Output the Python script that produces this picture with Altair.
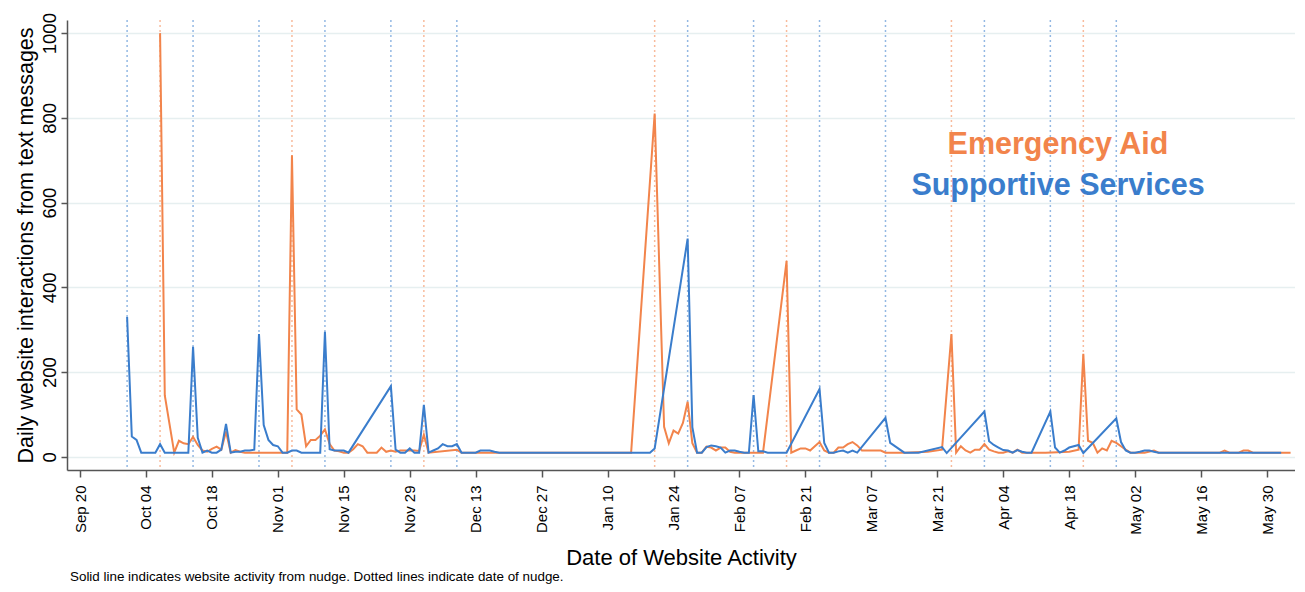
import altair as alt
import pandas as pd

BASE = pd.Timestamp("2020-09-20")

# Supportive Services (blue): day offset from Sep 20, daily interactions
ss_days = [10, 11, 12, 13, 14, 15, 16, 17, 18, 19, 20, 21, 22, 23, 24, 25, 26, 27, 28, 29,
           30, 31, 32, 33, 34, 35, 36, 37, 38, 39, 40, 41, 42, 43, 44, 45, 46, 47, 48, 49,
           50, 51, 52, 53, 54, 55, 56, 57, 66, 67, 68, 69, 70, 71, 72, 73, 74, 75, 76, 77,
           78, 79, 80, 81, 82, 83, 84, 85, 86, 87, 88, 89, 95, 100, 105, 110, 115, 121, 122, 129,
           130, 131, 132, 133, 134, 135, 136, 137, 138, 139, 140, 141, 142, 143, 144, 145, 146, 147, 148, 149,
           150, 157, 158, 159, 160, 161, 162, 163, 164, 165, 171, 172, 175, 176, 177, 178, 183, 184, 192, 193,
           194, 195, 196, 197, 198, 199, 200, 201, 202, 206, 207, 208, 209, 210, 212, 213, 220, 221, 222, 223,
           224, 225, 226, 227, 228, 229, 235, 240, 245, 250, 255]
ss_vals = [330, 48, 40, 10, 10, 10, 10, 30, 10, 10, 10, 10, 10, 10, 260, 45, 10, 15, 10, 10,
           17, 78, 10, 12, 12, 15, 15, 17, 290, 75, 40, 28, 25, 10, 10, 15, 15, 10, 10, 10,
           10, 10, 295, 18, 15, 15, 15, 10, 167, 17, 10, 10, 20, 10, 10, 123, 10, 15, 20, 30,
           25, 25, 30, 10, 10, 10, 10, 15, 15, 15, 12, 10, 10, 10, 10, 10, 10, 10, 20, 515,
           70, 10, 10, 23, 27, 25, 22, 10, 15, 15, 12, 10, 10, 146, 13, 13, 10, 10, 10, 10,
           10, 160, 33, 10, 10, 13, 15, 10, 15, 10, 92, 33, 10, 10, 10, 10, 23, 9, 107, 37,
           28, 22, 16, 15, 10, 16, 12, 10, 10, 107, 22, 10, 15, 22, 28, 9, 91, 35, 15, 10,
           10, 12, 15, 15, 12, 10, 10, 10, 10, 10, 10]

# Emergency Aid (orange)
ea_days = [17, 18, 20, 21, 22, 23, 24, 25, 26, 27, 28, 29, 30, 31, 32, 33, 34, 35, 36, 38,
           40, 42, 44, 45, 46, 47, 48, 49, 50, 51, 52, 53, 54, 55, 56, 57, 58, 59, 60, 61,
           62, 63, 64, 65, 66, 67, 68, 69, 70, 71, 72, 73, 74, 80, 81, 85, 90, 95, 100, 105,
           110, 117, 122, 124, 125, 126, 127, 128, 129, 130, 131, 132, 133, 134, 135, 136, 137, 138, 139, 141,
           143, 145, 150, 151, 152, 153, 154, 155, 156, 157, 158, 159, 160, 161, 162, 163, 164, 165, 166, 168,
           170, 171, 175, 180, 183, 185, 186, 187, 188, 189, 190, 191, 192, 193, 194, 195, 196, 197, 198, 199,
           200, 205, 210, 212, 213, 214, 215, 216, 217, 218, 219, 220, 221, 222, 223, 226, 228, 229, 235, 242,
           243, 244, 246, 247, 248, 249, 252, 257]
ea_vals = [1000, 145, 10, 38, 32, 30, 47, 28, 15, 12, 19, 24, 17, 60, 10, 16, 12, 10, 10, 10,
           10, 10, 10, 712, 112, 100, 25, 40, 40, 50, 65, 30, 15, 13, 10, 10, 18, 30, 25, 10,
           10, 10, 22, 12, 15, 12, 15, 15, 15, 15, 14, 52, 10, 17, 10, 10, 10, 10, 10, 10,
           10, 10, 810, 71, 32, 62, 55, 80, 130, 32, 10, 10, 24, 22, 15, 22, 22, 12, 10, 10,
           10, 10, 462, 10, 15, 20, 20, 15, 25, 35, 15, 10, 10, 22, 22, 30, 35, 27, 15, 15,
           15, 10, 10, 12, 17, 290, 10, 25, 15, 10, 17, 17, 30, 17, 13, 10, 10, 13, 10, 17,
           10, 10, 12, 17, 243, 38, 33, 10, 20, 15, 38, 33, 25, 17, 10, 10, 15, 10, 10, 10,
           15, 10, 10, 15, 15, 10, 10, 10]

# Dates of nudges (dotted lines)
ss_nudge_days = [10, 24, 38, 52, 66, 80, 129, 143, 157, 171, 192, 206, 220]
ea_nudge_days = [17, 45, 73, 122, 150, 185, 213]

tick_days = list(range(0, 253, 14))
y_ticks = [0, 200, 400, 600, 800, 1000]
series_names = ["Emergency Aid", "Supportive Services"]
series_colors = ["#F2844B", "#3A7DCC"]


def ms(days):
    return [int((BASE + pd.Timedelta(days=d)).value // 10**6) for d in days]


lines_df = pd.DataFrame({
    "date": ms(ea_days) + ms(ss_days),
    "value": ea_vals + ss_vals,
    "series": [series_names[0]] * len(ea_days) + [series_names[1]] * len(ss_days),
    "ord": [0] * len(ea_days) + [1] * len(ss_days),
})
nudge_df = pd.DataFrame({
    "date": ms(ea_nudge_days) + ms(ss_nudge_days),
    "series": [series_names[0]] * len(ea_nudge_days) + [series_names[1]] * len(ss_nudge_days),
})

color_scale = alt.Scale(domain=series_names, range=series_colors)
x_scale = alt.Scale(type="utc", domain=ms([-2.76, 257.94]), nice=False)
y_scale = alt.Scale(domain=[-31, 1031], nice=False, zero=False)

x_axis = alt.Axis(values=ms(tick_days), format="%b %d", labelAngle=270, labelAlign="right",
                  labelBaseline="middle", tickSize=7, labelPadding=8, grid=False,
                  title="Date of Website Activity", titlePadding=13, titleFontSize=22,
                  labelFontSize=15, labelOverlap=False)
y_axis = alt.Axis(values=y_ticks, labelAngle=270, labelAlign="center", labelBaseline="bottom",
                  tickSize=6, labelPadding=2, grid=True, format="d",
                  title="Daily website interactions from text messages", titlePadding=3,
                  titleFontSize=21.5, labelFontSize=18.5)

rules = alt.Chart(nudge_df).mark_rule(strokeDash=[2, 3], strokeWidth=1.5, opacity=0.55).encode(
    x=alt.X("date:T", scale=x_scale, axis=x_axis),
    color=alt.Color("series:N", scale=color_scale, legend=None),
)

ea_line = alt.Chart(lines_df[lines_df["ord"] == 0]).mark_line(strokeWidth=2).encode(
    x=alt.X("date:T", scale=x_scale, axis=x_axis),
    y=alt.Y("value:Q", scale=y_scale, axis=y_axis),
    color=alt.Color("series:N", scale=color_scale, legend=None),
)
ss_line = alt.Chart(lines_df[lines_df["ord"] == 1]).mark_line(strokeWidth=2).encode(
    x=alt.X("date:T", scale=x_scale, axis=x_axis),
    y=alt.Y("value:Q", scale=y_scale, axis=y_axis),
    color=alt.Color("series:N", scale=color_scale, legend=None),
)

one = alt.InlineData(values=[{"a": 1}])
lab1 = alt.Chart(one).mark_text(text=series_names[0], font="Liberation Sans", fontSize=30.5,
                                fontWeight="bold", color=series_colors[0], align="center",
                                baseline="alphabetic").encode(x=alt.value(991), y=alt.value(134))
lab2 = alt.Chart(one).mark_text(text=series_names[1], font="Liberation Sans", fontSize=30.5,
                                fontWeight="bold", color=series_colors[1], align="center",
                                baseline="alphabetic").encode(x=alt.value(991), y=alt.value(175))
foot = alt.Chart(one).mark_text(
    text="Solid line indicates website activity from nudge. Dotted lines indicate date of nudge.",
    font="Liberation Sans", fontSize=13.4, color="black", align="left", baseline="alphabetic"
).encode(x=alt.value(3), y=alt.value(561))

chart = alt.layer(rules, ea_line, ss_line, lab1, lab2, foot).properties(
    width=1228, height=450,
    autosize=alt.AutoSizeParams(type="none"),
    padding={"left": 59, "top": 12, "right": 0, "bottom": 114},
    background="white",
).configure_view(strokeWidth=0).configure_axis(
    domainColor="#555555", tickColor="#555555", domainWidth=1.5, tickWidth=1.5,
    labelColor="black", titleColor="black", labelFont="Liberation Sans",
    titleFont="Liberation Sans", titleFontWeight="normal",
    gridColor="#E6EFF0", gridWidth=1.5,
)

chart.save("out.html", embed_options={"renderer": "svg", "actions": False})
